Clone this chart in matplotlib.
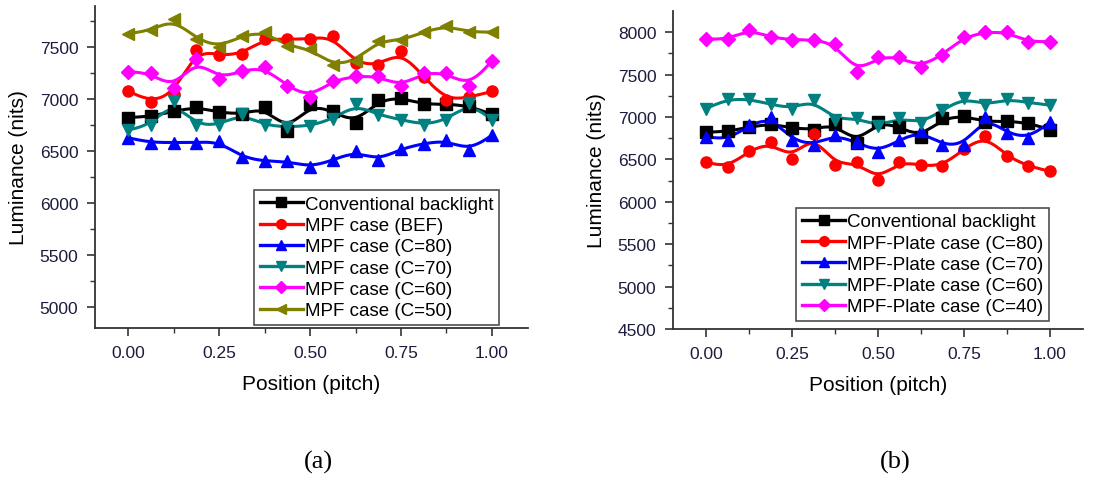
import numpy as np
import matplotlib
matplotlib.use('Agg')
import matplotlib.pyplot as plt

plt.rcParams['font.family'] = ['Liberation Sans', 'DejaVu Sans']

# Measurement positions (pitch)
position = [0.0, 0.0625, 0.125, 0.1875, 0.25, 0.3125, 0.375, 0.4375, 0.5,
            0.5625, 0.625, 0.6875, 0.75, 0.8125, 0.875, 0.9375, 1.0]

# Panel (a)
conv = [6820, 6830, 6880, 6920, 6870, 6850, 6920, 6690, 6945, 6880, 6765,
        6985, 7010, 6945, 6950, 6930, 6850]
mpf_bef = [7075, 6970, 7045, 7470, 7415, 7430, 7575, 7570, 7575, 7600, 7340,
           7320, 7455, 7210, 6985, 7015, 7070]
mpf_c80 = [6625, 6580, 6580, 6580, 6590, 6440, 6400, 6400, 6345, 6410, 6495,
           6410, 6520, 6570, 6600, 6505, 6650]
mpf_c70 = [6700, 6750, 6975, 6745, 6750, 6855, 6745, 6730, 6740, 6805, 6945,
           6845, 6800, 6750, 6795, 6960, 6800]
mpf_c60 = [7260, 7245, 7100, 7380, 7190, 7270, 7300, 7120, 7015, 7175, 7215,
           7215, 7120, 7250, 7245, 7120, 7365]
mpf_c50 = [7625, 7655, 7765, 7575, 7495, 7605, 7640, 7505, 7480, 7320, 7365,
           7555, 7560, 7640, 7700, 7640, 7640]

# Panel (b)
plate_c80 = [6470, 6405, 6600, 6700, 6510, 6795, 6430, 6470, 6260, 6475, 6430,
             6420, 6625, 6780, 6535, 6420, 6360]
plate_c70 = [6770, 6730, 6900, 7000, 6730, 6670, 6790, 6700, 6590, 6730, 6830,
             6670, 6670, 7000, 6810, 6750, 6940]
plate_c60 = [7100, 7210, 7210, 7150, 7100, 7200, 6965, 6990, 6890, 6990, 6925,
             7080, 7225, 7140, 7210, 7170, 7140]
plate_c40 = [7920, 7915, 8030, 7940, 7910, 7910, 7865, 7525, 7705, 7705, 7590,
             7735, 7940, 8000, 8000, 7885, 7890]

labels_a = ['Conventional backlight', 'MPF case (BEF)', 'MPF case (C=80)',
            'MPF case (C=70)', 'MPF case (C=60)', 'MPF case (C=50)']
labels_b = ['Conventional backlight', 'MPF-Plate case (C=80)',
            'MPF-Plate case (C=70)', 'MPF-Plate case (C=60)',
            'MPF-Plate case (C=40)']

styles_a = [('black', 's'), ('#ff0000', 'o'), ('#0000ff', '^'),
            ('#008080', 'v'), ('#ff00ff', 'D'), ('#808000', '<')]
styles_b = [('black', 's'), ('#ff0000', 'o'), ('#0000ff', '^'),
            ('#008080', 'v'), ('#ff00ff', 'D')]

TICK_COLOR = '#1c1c3c'


def bspline(x, y, n=20):
    # Uniform cubic B-spline through the points as control points
    # (end points repeated so the curve starts/ends on them).
    px = np.r_[[x[0]] * 2, x, [x[-1]] * 2]
    py = np.r_[[y[0]] * 2, y, [y[-1]] * 2]
    t = np.linspace(0, 1, n, endpoint=False)
    b0 = (1 - t) ** 3 / 6
    b1 = (3 * t ** 3 - 6 * t ** 2 + 4) / 6
    b2 = (-3 * t ** 3 + 3 * t ** 2 + 3 * t + 1) / 6
    b3 = t ** 3 / 6
    xs, ys = [], []
    for k in range(len(px) - 3):
        xs.append(b0 * px[k] + b1 * px[k + 1] + b2 * px[k + 2] + b3 * px[k + 3])
        ys.append(b0 * py[k] + b1 * py[k + 1] + b2 * py[k + 2] + b3 * py[k + 3])
    xs.append([x[-1]])
    ys.append([y[-1]])
    return np.concatenate(xs), np.concatenate(ys)


def draw_panel(ax, series, labels, styles):
    for y, label, (color, marker) in zip(series, labels, styles):
        sx, sy = bspline(np.array(position), np.array(y, dtype=float))
        ax.plot(sx, sy, color=color, lw=2.2, zorder=2)
        ax.plot(position, y, linestyle='none', marker=marker, color=color,
                ms=8 if marker != 'D' else 7, mec=color, zorder=3)
        ax.plot([], [], color=color, lw=2.4, marker=marker,
                ms=7 if marker != 'D' else 6, label=label)

    for side in ('top', 'right'):
        ax.spines[side].set_visible(False)
    for side in ('left', 'bottom'):
        ax.spines[side].set_linewidth(1.3)
        ax.spines[side].set_color('#333333')

    ax.set_xticks([0, 0.25, 0.5, 0.75, 1.0])
    ax.set_xticklabels(['0.00', '0.25', '0.50', '0.75', '1.00'])
    ax.set_xticks([0.125, 0.375, 0.625, 0.875], minor=True)
    ax.tick_params(which='major', direction='out', length=6, width=1.2,
                   labelsize=12.5, labelcolor=TICK_COLOR, color='#333333',
                   pad=6)
    ax.tick_params(which='minor', direction='out', length=3.5, width=1.0,
                   color='#333333')
    ax.set_xlabel('Position (pitch)', fontsize=15, labelpad=10)
    ax.set_ylabel('Luminance (nits)', fontsize=15, labelpad=8)


fig = plt.figure(figsize=(11.09, 4.81), dpi=100)

ax_a = fig.add_axes([95 / 1109, 1 - 329 / 481, 433 / 1109, 322 / 481])
draw_panel(ax_a, [conv, mpf_bef, mpf_c80, mpf_c70, mpf_c60, mpf_c50],
           labels_a, styles_a)
ax_a.set_xlim(-0.091, 1.099)
ax_a.set_ylim(4800, 7890)
ax_a.set_yticks([5000, 5500, 6000, 6500, 7000, 7500])
ax_a.set_yticks([5250, 5750, 6250, 6750, 7250, 7750], minor=True)

ax_b = fig.add_axes([673 / 1109, 1 - 330 / 481, 410 / 1109, 318 / 481])
draw_panel(ax_b, [conv, plate_c80, plate_c70, plate_c60, plate_c40],
           labels_b, styles_b)
ax_b.set_xlim(-0.096, 1.096)
ax_b.set_ylim(4500, 8250)
ax_b.set_yticks([4500, 5000, 5500, 6000, 6500, 7000, 7500, 8000])
ax_b.set_yticks([4750, 5250, 5750, 6250, 6750, 7250, 7750], minor=True)

for ax, anchor in ((ax_a, (0.933, 0.01)), (ax_b, (0.917, 0.025))):
    leg = ax.legend(loc='lower right', bbox_to_anchor=anchor, fontsize=13.5,
                    frameon=True, fancybox=False, handlelength=2.3,
                    handletextpad=0.1, labelspacing=0.22, borderpad=0.3,
                    borderaxespad=0)
    leg.get_frame().set_edgecolor('#222222')
    leg.get_frame().set_linewidth(1.2)

fig.text(318 / 1109, 1 - 462 / 481, '(a)', fontsize=19, ha='center',
         va='center', family=['Liberation Serif', 'DejaVu Serif'])
fig.text(895 / 1109, 1 - 462 / 481, '(b)', fontsize=19, ha='center',
         va='center', family=['Liberation Serif', 'DejaVu Serif'])

fig.savefig('out.png', dpi=100)
